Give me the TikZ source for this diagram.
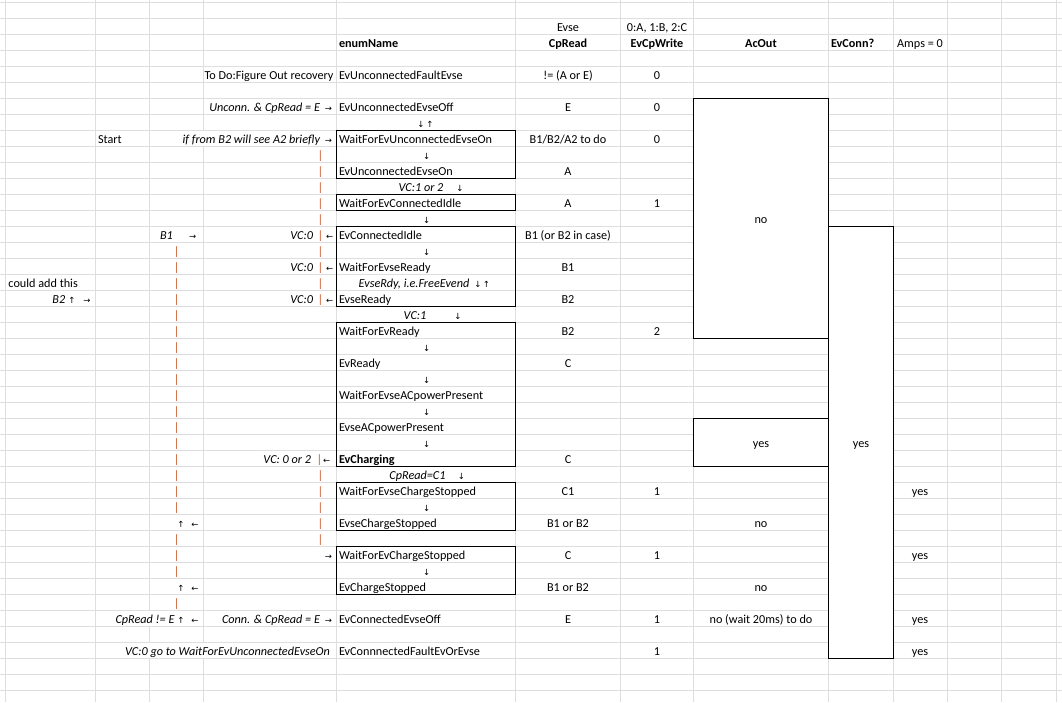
\documentclass[tikz,border=0pt]{standalone}
\usepackage{fontspec}
\setmainfont{Carlito}
\newfontfamily\arrowfamily{DejaVu Sans}
\definecolor{gridgray}{RGB}{222,222,222}
\definecolor{pipeorange}{RGB}{200,85,40}
\newcommand\fs{\fontsize{12.2}{14}\selectfont}
\newcommand\afs{\arrowfamily\fontsize{8.5}{10}\selectfont}
\newcommand\tx[4][L]{\node[#1] at (#2,{15.6+16*(#3)}) {#4};}
\newcommand\arw[3]{\node[arr] at (#1,{15.6+16*(#2)}) {#3};}
\newcommand\pp[2]{\node[pipe] at (#1,{15.6+16*(#2)}) {|};}
\tikzset{
  gridln/.style={draw=gridgray, line width=0.9pt},
  box/.style={draw=black, line width=1.4pt},
  tt/.style={inner sep=0pt, outer sep=0pt, font=\fs, text=black},
  L/.style={tt, anchor=base west},
  R/.style={tt, anchor=base east},
  C/.style={tt, anchor=base},
  it/.style={font=\fs\itshape},
  bf/.style={font=\fs\bfseries},
  arr/.style={inner sep=0pt, outer sep=0pt, anchor=base, font=\afs, text=black},
  pipe/.style={tt, anchor=base, text=pipeorange},
}
\begin{document}
\begin{tikzpicture}[x=1pt,y=-1pt]
\useasboundingbox (0,0) rectangle (1062,702);
\fill[white] (0,0) rectangle (1062,702);
% grid
\foreach \x in {5.7,95.7,149.8,203.5,336.5,515.5,620.7,693.3,828.7,893.3,947.3,1001.3,1056}
  \draw[gridln] (\x,0) -- (\x,702);
\foreach \k in {0,...,43}
  \draw[gridln] (0,{2.3+16*\k}) -- (1062,{2.3+16*\k});
% overflow gaps
\fill[white] (202,{2.3+16*8+0.6}) rectangle (205,{2.3+16*9-0.6});
\fill[white] (148.3,{2.3+16*38+0.6}) rectangle (151.3,{2.3+16*39-0.6});
\fill[white] (148.3,{2.3+16*40+0.6}) rectangle (151.3,{2.3+16*41-0.6});
\fill[white] (202,{2.3+16*40+0.6}) rectangle (205,{2.3+16*41-0.6});
% merged boxes
\draw[box,fill=white] (693.3,98.3) rectangle (828.7,338.3);
\draw[box,fill=white] (693.3,418.3) rectangle (828.7,466.3);
\draw[box,fill=white] (828.7,226.3) rectangle (893.3,658.3);
% state group boxes
\draw[box] (336.5,130.3) rectangle (515.5,178.3);
\draw[box] (336.5,194.3) rectangle (515.5,210.3);
\draw[box] (336.5,226.3) rectangle (515.5,306.3);
\draw[box] (336.5,322.3) rectangle (515.5,466.3);
\draw[box] (336.5,482.3) rectangle (515.5,530.3);
\draw[box] (336.5,546.3) rectangle (515.5,594.3);
% headers
\tx[C]{568}{1}{Evse}
\tx[C]{657}{1}{0:A, 1:B, 2:C}
\tx[L,bf]{339}{2}{enumName}
\tx[C,bf]{568}{2}{CpRead}
\tx[C,bf]{657}{2}{EvCpWrite}
\tx[C,bf]{761}{2}{AcOut}
\tx[L,bf]{831}{2}{EvConn?}
\tx[C]{920}{2}{Amps = 0}
% row 4
\tx[R]{333.5}{4}{To Do:Figure Out recovery}
\tx[L]{339}{4}{EvUnconnectedFaultEvse}
\tx[C]{568}{4}{!= (A or E)}
\tx[C]{657}{4}{0}
% row 6
\tx[R,it]{320}{6}{Unconn. \& CpRead = E}
\arw{328.5}{6}{→}
\tx[L]{339}{6}{EvUnconnectedEvseOff}
\tx[C]{568}{6}{E}
\tx[C]{657}{6}{0}
% row 7
\arw{421}{7}{↓}
\arw{430}{7}{↑}
% row 8
\tx[L]{98}{8}{Start}
\tx[R,it]{320}{8}{if from B2 will see A2 briefly}
\arw{328.5}{8}{→}
\tx[L]{339}{8}{WaitForEvUnconnectedEvseOn}
\tx[C]{568}{8}{B1/B2/A2 to do}
\tx[C]{657}{8}{0}
% row 9
\pp{320.5}{9}
\arw{426.6}{9}{↓}
% row 10
\pp{320.5}{10}
\tx[L]{339}{10}{EvUnconnectedEvseOn}
\tx[C]{568}{10}{A}
% row 11
\pp{320.5}{11}
\tx[C,it]{421}{11}{VC:1 or 2}
\arw{460}{11}{↓}
% row 12
\pp{320.5}{12}
\tx[L]{339}{12}{WaitForEvConnectedIdle}
\tx[C]{568}{12}{A}
\tx[C]{657}{12}{1}
% row 13
\pp{320.5}{13}
\arw{426.6}{13}{↓}
\tx[C]{761}{13}{no}
% row 14
\tx[L,it]{160}{14}{B1}
\arw{192.7}{14}{→}
\tx[R,it]{313}{14}{VC:0}
\pp{320.5}{14}
\arw{329.6}{14}{←}
\tx[L]{339}{14}{EvConnectedIdle}
\tx[C]{568}{14}{B1 (or B2 in case)}
% row 15
\pp{176.8}{15}
\pp{320.5}{15}
\arw{426.6}{15}{↓}
% row 16
\pp{176.8}{16}
\tx[R,it]{313}{16}{VC:0}
\pp{320.5}{16}
\arw{329.6}{16}{←}
\tx[L]{339}{16}{WaitForEvseReady}
\tx[C]{568}{16}{B1}
% row 17
\tx[L]{8.5}{17}{could add this}
\pp{176.8}{17}
\pp{320.5}{17}
\tx[C,it]{414}{17}{EvseRdy, i.e.FreeEvend}
\arw{478}{17}{↓}
\arw{486.5}{17}{↑}
% row 18
\tx[L,it]{52.4}{18}{B2}
\arw{72}{18}{↑}
\arw{87}{18}{→}
\pp{176.8}{18}
\tx[R,it]{313}{18}{VC:0}
\pp{320.5}{18}
\arw{329.6}{18}{←}
\tx[L]{339}{18}{EvseReady}
\tx[C]{568}{18}{B2}
% row 19
\pp{176.8}{19}
\tx[C,it]{415}{19}{VC:1}
\arw{458}{19}{↓}
% rows 20-27
\pp{176.8}{20}
\tx[L]{339}{20}{WaitForEvReady}
\tx[C]{568}{20}{B2}
\tx[C]{657}{20}{2}
\pp{176.8}{21}
\arw{426.6}{21}{↓}
\pp{176.8}{22}
\tx[L]{339}{22}{EvReady}
\tx[C]{568}{22}{C}
\pp{176.8}{23}
\arw{426.6}{23}{↓}
\pp{176.8}{24}
\tx[L]{339}{24}{WaitForEvseACpowerPresent}
\pp{176.8}{25}
\arw{426.6}{25}{↓}
\pp{176.8}{26}
\tx[L]{339}{26}{EvseACpowerPresent}
\pp{176.8}{27}
\arw{426.6}{27}{↓}
\tx[C]{761}{27}{yes}
\tx[C]{861}{27}{yes}
% row 28
\pp{176.8}{28}
\tx[R,it]{311}{28}{VC: 0 or 2}
\pp{319.5}{28}
\arw{326.6}{28}{←}
\tx[L,bf]{339}{28}{EvCharging}
\tx[C]{568}{28}{C}
% row 29
\pp{176.8}{29}
\pp{320.5}{29}
\tx[C,it]{417.5}{29}{CpRead=C1}
\arw{461.5}{29}{↓}
% row 30
\pp{176.8}{30}
\pp{320.5}{30}
\tx[L]{339}{30}{WaitForEvseChargeStopped}
\tx[C]{568}{30}{C1}
\tx[C]{657}{30}{1}
\tx[C]{920}{30}{yes}
% row 31
\pp{176.8}{31}
\pp{320.5}{31}
\arw{426.6}{31}{↓}
% row 32
\arw{181}{32}{↑}
\arw{195}{32}{←}
\pp{320.5}{32}
\tx[L]{339}{32}{EvseChargeStopped}
\tx[C]{568}{32}{B1 or B2}
\tx[C]{761}{32}{no}
% row 33
\pp{176.8}{33}
\pp{320.5}{33}
% row 34
\pp{176.8}{34}
\arw{328.5}{34}{→}
\tx[L]{339}{34}{WaitForEvChargeStopped}
\tx[C]{568}{34}{C}
\tx[C]{657}{34}{1}
\tx[C]{920}{34}{yes}
% row 35
\pp{176.8}{35}
\arw{426.6}{35}{↓}
% row 36
\arw{181}{36}{↑}
\arw{195}{36}{←}
\tx[L]{339}{36}{EvChargeStopped}
\tx[C]{568}{36}{B1 or B2}
\tx[C]{761}{36}{no}
% row 37
\pp{176.8}{37}
% row 38
\tx[R,it]{174.5}{38}{CpRead != E}
\arw{181}{38}{↑}
\arw{195}{38}{←}
\tx[R,it]{320}{38}{Conn. \& CpRead = E}
\arw{328.5}{38}{→}
\tx[L]{339}{38}{EvConnectedEvseOff}
\tx[C]{568}{38}{E}
\tx[C]{657}{38}{1}
\tx[C]{761}{38}{no (wait 20ms) to do}
\tx[C]{920}{38}{yes}
% row 40
\tx[R,it]{330}{40}{VC:0 go to WaitForEvUnconnectedEvseOn}
\tx[L]{339}{40}{EvConnnectedFaultEvOrEvse}
\tx[C]{657}{40}{1}
\tx[C]{920}{40}{yes}
\end{tikzpicture}
\end{document}
